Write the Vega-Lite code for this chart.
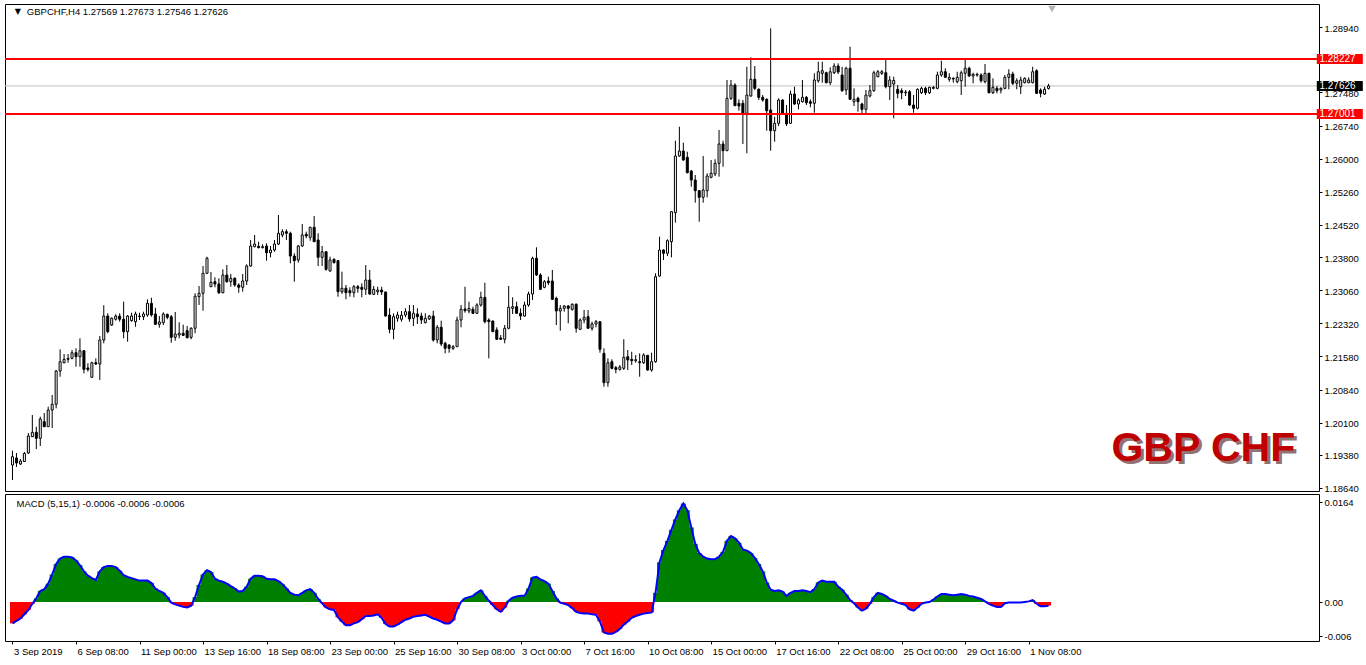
{
"$schema": "https://vega.github.io/schema/vega-lite/v6.json",
"padding": {"left": 3, "top": 3, "right": 0, "bottom": 0},
"background": "white",
"spacing": 3,
"bounds": "flush",
"resolve": {"scale": {"x": "independent", "y": "independent"}},
"config": {
 "view": {"stroke": "black", "strokeWidth": 1},
 "axis": {"labelFont": "Liberation Sans", "labelFontSize": 9.5, "labelColor": "black", "tickColor": "black", "domain": false, "grid": false, "labelOverlap": false, "labelFlush": false, "labelBound": false},
 "text": {"font": "Liberation Sans"}
},
"datasets": {
"levels": [{"p":1.28227,"k":"sr"},{"p":1.27001,"k":"sr"},{"p":1.27626,"k":"bid"}],
"bars": [
{"i":0,"o":1.19153,"h":1.19473,"l":1.18818,"c":1.19339,"m":-0.0035},
{"i":1,"o":1.1931,"h":1.19421,"l":1.19109,"c":1.19198,"m":-0.0031},
{"i":2,"o":1.19176,"h":1.19287,"l":1.19153,"c":1.19243,"m":-0.0027},
{"i":3,"o":1.19231,"h":1.19444,"l":1.1922,"c":1.1941,"m":-0.002},
{"i":4,"o":1.19421,"h":1.19868,"l":1.19399,"c":1.19801,"m":-0.0013},
{"i":5,"o":1.19786,"h":1.20271,"l":1.19779,"c":1.19884,"m":-0.0003},
{"i":6,"o":1.19884,"h":1.20009,"l":1.1951,"c":1.1975,"m":0.0006},
{"i":7,"o":1.1975,"h":1.20233,"l":1.19578,"c":1.20181,"m":0.0018},
{"i":8,"o":1.20121,"h":1.20315,"l":1.20009,"c":1.20009,"m":0.0021},
{"i":9,"o":1.20009,"h":1.20456,"l":1.20009,"c":1.20382,"m":0.003},
{"i":10,"o":1.20382,"h":1.20718,"l":1.1998,"c":1.2051,"m":0.0045},
{"i":11,"o":1.2051,"h":1.21276,"l":1.2042,"c":1.21254,"m":0.0062},
{"i":12,"o":1.21254,"h":1.21739,"l":1.21126,"c":1.21461,"m":0.0071},
{"i":13,"o":1.21439,"h":1.21634,"l":1.21426,"c":1.21515,"m":0.0074},
{"i":14,"o":1.21515,"h":1.21634,"l":1.21439,"c":1.21537,"m":0.0074},
{"i":15,"o":1.21537,"h":1.21723,"l":1.21515,"c":1.21663,"m":0.0073},
{"i":16,"o":1.21663,"h":1.21761,"l":1.2135,"c":1.21573,"m":0.0068},
{"i":17,"o":1.21573,"h":1.21984,"l":1.2135,"c":1.21707,"m":0.006},
{"i":18,"o":1.21707,"h":1.21723,"l":1.21202,"c":1.2129,"m":0.005},
{"i":19,"o":1.21321,"h":1.21426,"l":1.21239,"c":1.2129,"m":0.0043},
{"i":20,"o":1.21113,"h":1.21461,"l":1.21113,"c":1.21439,"m":0.0039},
{"i":21,"o":1.21439,"h":1.21537,"l":1.21388,"c":1.2141,"m":0.0036},
{"i":22,"o":1.2141,"h":1.22036,"l":1.21053,"c":1.21947,"m":0.005},
{"i":23,"o":1.21947,"h":1.22723,"l":1.21873,"c":1.22483,"m":0.0057},
{"i":24,"o":1.22483,"h":1.22544,"l":1.22097,"c":1.22133,"m":0.0059},
{"i":25,"o":1.22282,"h":1.22454,"l":1.2226,"c":1.22432,"m":0.0059},
{"i":26,"o":1.22411,"h":1.22521,"l":1.2238,"c":1.22483,"m":0.0057},
{"i":27,"o":1.22483,"h":1.22544,"l":1.22356,"c":1.22411,"m":0.0051},
{"i":28,"o":1.22411,"h":1.22803,"l":1.21985,"c":1.22133,"m":0.0044},
{"i":29,"o":1.22133,"h":1.22506,"l":1.21909,"c":1.22483,"m":0.0041},
{"i":30,"o":1.2238,"h":1.22557,"l":1.22356,"c":1.22483,"m":0.0039},
{"i":31,"o":1.22356,"h":1.2258,"l":1.22244,"c":1.22528,"m":0.0037},
{"i":32,"o":1.22483,"h":1.22557,"l":1.22394,"c":1.22472,"m":0.0035},
{"i":33,"o":1.22468,"h":1.2258,"l":1.22394,"c":1.22528,"m":0.0035},
{"i":34,"o":1.22506,"h":1.22857,"l":1.22468,"c":1.22767,"m":0.0035},
{"i":35,"o":1.22767,"h":1.22892,"l":1.22468,"c":1.22506,"m":0.0031},
{"i":36,"o":1.22528,"h":1.22669,"l":1.22282,"c":1.22298,"m":0.0022},
{"i":37,"o":1.22298,"h":1.22483,"l":1.22222,"c":1.22349,"m":0.0018},
{"i":38,"o":1.22334,"h":1.22566,"l":1.22282,"c":1.22528,"m":0.0015},
{"i":39,"o":1.22521,"h":1.22535,"l":1.22411,"c":1.22454,"m":0.0008},
{"i":40,"o":1.22468,"h":1.22506,"l":1.21887,"c":1.22007,"m":-0.0001},
{"i":41,"o":1.22007,"h":1.22573,"l":1.21931,"c":1.22081,"m":-0.0004},
{"i":42,"o":1.22059,"h":1.22343,"l":1.21985,"c":1.22097,"m":-0.0006},
{"i":43,"o":1.22097,"h":1.22289,"l":1.22036,"c":1.22052,"m":-0.0008},
{"i":44,"o":1.22155,"h":1.2226,"l":1.21985,"c":1.21998,"m":-0.0009},
{"i":45,"o":1.22007,"h":1.22231,"l":1.21963,"c":1.22209,"m":-0.0006},
{"i":46,"o":1.22209,"h":1.22991,"l":1.22097,"c":1.22924,"m":0.0008},
{"i":47,"o":1.22915,"h":1.23154,"l":1.22729,"c":1.22991,"m":0.0028},
{"i":48,"o":1.22991,"h":1.23601,"l":1.22602,"c":1.23438,"m":0.0045},
{"i":49,"o":1.23438,"h":1.23809,"l":1.23422,"c":1.23773,"m":0.0052},
{"i":50,"o":1.23138,"h":1.23467,"l":1.23132,"c":1.23237,"m":0.0049},
{"i":51,"o":1.2325,"h":1.23348,"l":1.23125,"c":1.23199,"m":0.0038},
{"i":52,"o":1.23199,"h":1.23326,"l":1.22975,"c":1.23004,"m":0.0035},
{"i":53,"o":1.23004,"h":1.23527,"l":1.22991,"c":1.234,"m":0.0033},
{"i":54,"o":1.234,"h":1.23623,"l":1.23228,"c":1.2325,"m":0.003},
{"i":55,"o":1.2325,"h":1.23422,"l":1.23138,"c":1.23326,"m":0.0026},
{"i":56,"o":1.23326,"h":1.23348,"l":1.23138,"c":1.23176,"m":0.0022},
{"i":57,"o":1.23176,"h":1.23214,"l":1.23004,"c":1.23125,"m":0.0017},
{"i":58,"o":1.23125,"h":1.23422,"l":1.23027,"c":1.23266,"m":0.0018},
{"i":59,"o":1.23266,"h":1.23639,"l":1.23176,"c":1.23601,"m":0.0025},
{"i":60,"o":1.23601,"h":1.24182,"l":1.23585,"c":1.24048,"m":0.0038},
{"i":61,"o":1.24032,"h":1.24294,"l":1.24019,"c":1.24092,"m":0.0043},
{"i":62,"o":1.24041,"h":1.24144,"l":1.23996,"c":1.2401,"m":0.0043},
{"i":63,"o":1.2401,"h":1.24086,"l":1.23996,"c":1.24032,"m":0.0042},
{"i":64,"o":1.24048,"h":1.24108,"l":1.2372,"c":1.23898,"m":0.0038},
{"i":65,"o":1.23898,"h":1.24048,"l":1.23795,"c":1.23958,"m":0.0037},
{"i":66,"o":1.23958,"h":1.24182,"l":1.2392,"c":1.24092,"m":0.0037},
{"i":67,"o":1.24092,"h":1.24741,"l":1.2407,"c":1.24332,"m":0.0034},
{"i":68,"o":1.24294,"h":1.24421,"l":1.24242,"c":1.24368,"m":0.0029},
{"i":69,"o":1.24368,"h":1.24421,"l":1.24182,"c":1.24332,"m":0.0022},
{"i":70,"o":1.24332,"h":1.24368,"l":1.23661,"c":1.23824,"m":0.0015},
{"i":71,"o":1.23824,"h":1.23885,"l":1.2325,"c":1.2372,"m":0.0012},
{"i":72,"o":1.23735,"h":1.2407,"l":1.23675,"c":1.24048,"m":0.0011},
{"i":73,"o":1.24048,"h":1.2454,"l":1.24032,"c":1.24294,"m":0.0015},
{"i":74,"o":1.2431,"h":1.24368,"l":1.2422,"c":1.24271,"m":0.0019},
{"i":75,"o":1.24242,"h":1.24479,"l":1.24166,"c":1.24466,"m":0.0021},
{"i":76,"o":1.24466,"h":1.24718,"l":1.24144,"c":1.24144,"m":0.0015},
{"i":77,"o":1.24182,"h":1.24332,"l":1.23601,"c":1.23795,"m":0.0005},
{"i":78,"o":1.23795,"h":1.24048,"l":1.23601,"c":1.2392,"m":-0.0002},
{"i":79,"o":1.2392,"h":1.2392,"l":1.23496,"c":1.23527,"m":-0.0009},
{"i":80,"o":1.23489,"h":1.23809,"l":1.23474,"c":1.23735,"m":-0.0012},
{"i":81,"o":1.23751,"h":1.23773,"l":1.23661,"c":1.23675,"m":-0.0013},
{"i":82,"o":1.2372,"h":1.23735,"l":1.22915,"c":1.23027,"m":-0.0025},
{"i":83,"o":1.23027,"h":1.23474,"l":1.22975,"c":1.23103,"m":-0.0032},
{"i":84,"o":1.23103,"h":1.23176,"l":1.22857,"c":1.23004,"m":-0.0038},
{"i":85,"o":1.23049,"h":1.23125,"l":1.22915,"c":1.23004,"m":-0.0038},
{"i":86,"o":1.23004,"h":1.23176,"l":1.22901,"c":1.23138,"m":-0.0035},
{"i":87,"o":1.23138,"h":1.23176,"l":1.23004,"c":1.23103,"m":-0.0033},
{"i":88,"o":1.23125,"h":1.23214,"l":1.22901,"c":1.2308,"m":-0.0028},
{"i":89,"o":1.2308,"h":1.23623,"l":1.22953,"c":1.23288,"m":-0.0023},
{"i":90,"o":1.23288,"h":1.23512,"l":1.22953,"c":1.22975,"m":-0.0023},
{"i":91,"o":1.22968,"h":1.23154,"l":1.22953,"c":1.2308,"m":-0.0022},
{"i":92,"o":1.23027,"h":1.23138,"l":1.22953,"c":1.23064,"m":-0.002},
{"i":93,"o":1.23064,"h":1.23138,"l":1.22953,"c":1.2302,"m":-0.0026},
{"i":94,"o":1.2302,"h":1.23027,"l":1.22468,"c":1.22483,"m":-0.0036},
{"i":95,"o":1.22506,"h":1.22655,"l":1.22097,"c":1.22186,"m":-0.004},
{"i":96,"o":1.22186,"h":1.22544,"l":1.21963,"c":1.22468,"m":-0.004},
{"i":97,"o":1.22432,"h":1.2258,"l":1.22356,"c":1.22506,"m":-0.0037},
{"i":98,"o":1.22411,"h":1.22595,"l":1.22356,"c":1.22499,"m":-0.0033},
{"i":99,"o":1.22506,"h":1.22655,"l":1.22454,"c":1.2258,"m":-0.0029},
{"i":100,"o":1.2258,"h":1.22729,"l":1.22356,"c":1.22418,"m":-0.0027},
{"i":101,"o":1.22432,"h":1.22729,"l":1.2226,"c":1.22544,"m":-0.0024},
{"i":102,"o":1.22528,"h":1.22655,"l":1.22305,"c":1.22468,"m":-0.0023},
{"i":103,"o":1.22483,"h":1.22557,"l":1.22305,"c":1.22394,"m":-0.0022},
{"i":104,"o":1.22334,"h":1.22544,"l":1.2232,"c":1.22432,"m":-0.0021},
{"i":105,"o":1.22418,"h":1.22506,"l":1.22394,"c":1.22483,"m":-0.0024},
{"i":106,"o":1.22483,"h":1.22602,"l":1.21909,"c":1.21947,"m":-0.0027},
{"i":107,"o":1.21947,"h":1.22282,"l":1.21873,"c":1.22231,"m":-0.0029},
{"i":108,"o":1.22231,"h":1.2238,"l":1.21813,"c":1.21858,"m":-0.0032},
{"i":109,"o":1.21873,"h":1.21909,"l":1.21649,"c":1.21761,"m":-0.0035},
{"i":110,"o":1.21835,"h":1.21851,"l":1.21663,"c":1.21761,"m":-0.0035},
{"i":111,"o":1.21761,"h":1.21835,"l":1.21723,"c":1.21797,"m":-0.003},
{"i":112,"o":1.21797,"h":1.22468,"l":1.21797,"c":1.22394,"m":-0.0012},
{"i":113,"o":1.22394,"h":1.22729,"l":1.22231,"c":1.22633,"m":0.0},
{"i":114,"o":1.2264,"h":1.23138,"l":1.22557,"c":1.22602,"m":0.0006},
{"i":115,"o":1.22595,"h":1.22803,"l":1.22544,"c":1.22655,"m":0.0008},
{"i":116,"o":1.22633,"h":1.22691,"l":1.22528,"c":1.22544,"m":0.001},
{"i":117,"o":1.22544,"h":1.22767,"l":1.22528,"c":1.22729,"m":0.0015},
{"i":118,"o":1.22729,"h":1.23027,"l":1.22691,"c":1.22901,"m":0.0019},
{"i":119,"o":1.22901,"h":1.23228,"l":1.2232,"c":1.22356,"m":0.001},
{"i":120,"o":1.22394,"h":1.22432,"l":1.21537,"c":1.22356,"m":0.0002},
{"i":121,"o":1.22372,"h":1.2238,"l":1.22133,"c":1.22133,"m":-0.0005},
{"i":122,"o":1.22171,"h":1.22231,"l":1.21947,"c":1.21963,"m":-0.0012},
{"i":123,"o":1.21992,"h":1.22059,"l":1.21947,"c":1.21963,"m":-0.0016},
{"i":124,"o":1.21963,"h":1.22282,"l":1.21873,"c":1.22209,"m":-0.0009},
{"i":125,"o":1.22209,"h":1.23154,"l":1.22186,"c":1.22678,"m":0.0002},
{"i":126,"o":1.22655,"h":1.22901,"l":1.22528,"c":1.22691,"m":0.0007},
{"i":127,"o":1.22691,"h":1.22803,"l":1.22528,"c":1.22544,"m":0.0009},
{"i":128,"o":1.22544,"h":1.22655,"l":1.22394,"c":1.22483,"m":0.001},
{"i":129,"o":1.22483,"h":1.22803,"l":1.22468,"c":1.22729,"m":0.001},
{"i":130,"o":1.22729,"h":1.23027,"l":1.22691,"c":1.22975,"m":0.0022},
{"i":131,"o":1.22975,"h":1.23809,"l":1.22841,"c":1.23773,"m":0.004},
{"i":132,"o":1.23773,"h":1.24019,"l":1.23377,"c":1.234,"m":0.0041},
{"i":133,"o":1.234,"h":1.23438,"l":1.23064,"c":1.2308,"m":0.0037},
{"i":134,"o":1.23125,"h":1.23288,"l":1.23103,"c":1.2325,"m":0.0034},
{"i":135,"o":1.23266,"h":1.23362,"l":1.23176,"c":1.23228,"m":0.003},
{"i":136,"o":1.23266,"h":1.23512,"l":1.22841,"c":1.22857,"m":0.0018},
{"i":137,"o":1.22879,"h":1.22915,"l":1.22282,"c":1.22595,"m":0.0006},
{"i":138,"o":1.22595,"h":1.22729,"l":1.22155,"c":1.22655,"m":-0.0001},
{"i":139,"o":1.22655,"h":1.22729,"l":1.2258,"c":1.22707,"m":-0.0003},
{"i":140,"o":1.22707,"h":1.22729,"l":1.2232,"c":1.22655,"m":-0.0005},
{"i":141,"o":1.22633,"h":1.22767,"l":1.22602,"c":1.22745,"m":-0.001},
{"i":142,"o":1.22745,"h":1.22767,"l":1.22111,"c":1.22209,"m":-0.0016},
{"i":143,"o":1.22186,"h":1.22432,"l":1.22171,"c":1.22394,"m":-0.0018},
{"i":144,"o":1.22394,"h":1.22618,"l":1.2232,"c":1.22454,"m":-0.0019},
{"i":145,"o":1.22468,"h":1.22618,"l":1.22209,"c":1.22209,"m":-0.0019},
{"i":146,"o":1.22209,"h":1.22356,"l":1.22155,"c":1.22305,"m":-0.002},
{"i":147,"o":1.22305,"h":1.22394,"l":1.22231,"c":1.22356,"m":-0.0021},
{"i":148,"o":1.22356,"h":1.22356,"l":1.21663,"c":1.21739,"m":-0.0032},
{"i":149,"o":1.21649,"h":1.21761,"l":1.20903,"c":1.20993,"m":-0.005},
{"i":150,"o":1.20993,"h":1.21537,"l":1.20903,"c":1.21439,"m":-0.0052},
{"i":151,"o":1.21461,"h":1.21515,"l":1.2129,"c":1.21314,"m":-0.0052},
{"i":152,"o":1.21328,"h":1.21366,"l":1.21202,"c":1.2129,"m":-0.0049},
{"i":153,"o":1.2129,"h":1.21388,"l":1.21261,"c":1.21343,"m":-0.0044},
{"i":154,"o":1.21314,"h":1.21963,"l":1.21276,"c":1.2156,"m":-0.0037},
{"i":155,"o":1.21573,"h":1.21723,"l":1.21276,"c":1.215,"m":-0.0032},
{"i":156,"o":1.21515,"h":1.21685,"l":1.21388,"c":1.21484,"m":-0.0026},
{"i":157,"o":1.21484,"h":1.21612,"l":1.21439,"c":1.21506,"m":-0.0023},
{"i":158,"o":1.21461,"h":1.21649,"l":1.21126,"c":1.21439,"m":-0.0021},
{"i":159,"o":1.21439,"h":1.21649,"l":1.2141,"c":1.21612,"m":-0.0019},
{"i":160,"o":1.21605,"h":1.21612,"l":1.21261,"c":1.21276,"m":-0.0018},
{"i":161,"o":1.21276,"h":1.21663,"l":1.21239,"c":1.21461,"m":-0.0017},
{"i":162,"o":1.21461,"h":1.23438,"l":1.21439,"c":1.23362,"m":0.0015},
{"i":163,"o":1.23377,"h":1.24256,"l":1.23362,"c":1.23958,"m":0.0065},
{"i":164,"o":1.23958,"h":1.23974,"l":1.23735,"c":1.23885,"m":0.0085},
{"i":165,"o":1.23885,"h":1.24198,"l":1.23824,"c":1.24166,"m":0.01},
{"i":166,"o":1.24144,"h":1.24815,"l":1.23795,"c":1.24815,"m":0.0118},
{"i":167,"o":1.24792,"h":1.26401,"l":1.24569,"c":1.26059,"m":0.0135},
{"i":168,"o":1.26059,"h":1.26714,"l":1.26044,"c":1.26171,"m":0.015},
{"i":169,"o":1.26171,"h":1.26357,"l":1.25954,"c":1.2597,"m":0.0161},
{"i":170,"o":1.2603,"h":1.26155,"l":1.25673,"c":1.25686,"m":0.015},
{"i":171,"o":1.25724,"h":1.25747,"l":1.25373,"c":1.25523,"m":0.0122},
{"i":172,"o":1.25523,"h":1.25635,"l":1.25016,"c":1.25284,"m":0.0095},
{"i":173,"o":1.25284,"h":1.253,"l":1.24591,"c":1.25136,"m":0.008},
{"i":174,"o":1.25136,"h":1.26059,"l":1.25016,"c":1.253,"m":0.0074},
{"i":175,"o":1.25284,"h":1.25673,"l":1.25136,"c":1.25612,"m":0.0071},
{"i":176,"o":1.25583,"h":1.2597,"l":1.25561,"c":1.25673,"m":0.007},
{"i":177,"o":1.25657,"h":1.25986,"l":1.25612,"c":1.25896,"m":0.007},
{"i":178,"o":1.25896,"h":1.2664,"l":1.25597,"c":1.26328,"m":0.0074},
{"i":179,"o":1.26328,"h":1.26401,"l":1.2582,"c":1.26178,"m":0.0082},
{"i":180,"o":1.26178,"h":1.27758,"l":1.26178,"c":1.27349,"m":0.01},
{"i":181,"o":1.27349,"h":1.27758,"l":1.27311,"c":1.27646,"m":0.0108},
{"i":182,"o":1.27646,"h":1.27684,"l":1.27177,"c":1.27184,"m":0.0104},
{"i":183,"o":1.27237,"h":1.27327,"l":1.27072,"c":1.27177,"m":0.0097},
{"i":184,"o":1.27237,"h":1.27311,"l":1.26328,"c":1.26998,"m":0.0086},
{"i":185,"o":1.27014,"h":1.28055,"l":1.2612,"c":1.27423,"m":0.0084},
{"i":186,"o":1.274,"h":1.28265,"l":1.27385,"c":1.27774,"m":0.008},
{"i":187,"o":1.27774,"h":1.28071,"l":1.27535,"c":1.27572,"m":0.0072},
{"i":188,"o":1.2755,"h":1.27572,"l":1.27311,"c":1.27371,"m":0.0062},
{"i":189,"o":1.27371,"h":1.27423,"l":1.27273,"c":1.27311,"m":0.005},
{"i":190,"o":1.27327,"h":1.27349,"l":1.26625,"c":1.27072,"m":0.0032},
{"i":191,"o":1.27088,"h":1.28913,"l":1.26178,"c":1.26625,"m":0.002},
{"i":192,"o":1.26625,"h":1.26938,"l":1.26379,"c":1.2679,"m":0.0018},
{"i":193,"o":1.2679,"h":1.27349,"l":1.2673,"c":1.27311,"m":0.0019},
{"i":194,"o":1.27311,"h":1.27327,"l":1.26976,"c":1.26998,"m":0.0017},
{"i":195,"o":1.27014,"h":1.27199,"l":1.2673,"c":1.26775,"m":0.001},
{"i":196,"o":1.2679,"h":1.27519,"l":1.26775,"c":1.27445,"m":0.0015},
{"i":197,"o":1.27445,"h":1.27608,"l":1.27199,"c":1.27222,"m":0.0018},
{"i":198,"o":1.27222,"h":1.27349,"l":1.27103,"c":1.27311,"m":0.0018},
{"i":199,"o":1.27273,"h":1.27758,"l":1.27251,"c":1.27371,"m":0.0019},
{"i":200,"o":1.27371,"h":1.274,"l":1.27199,"c":1.27251,"m":0.0018},
{"i":201,"o":1.27273,"h":1.27327,"l":1.27148,"c":1.27237,"m":0.0016},
{"i":202,"o":1.27237,"h":1.27908,"l":1.27027,"c":1.27758,"m":0.0021},
{"i":203,"o":1.27742,"h":1.28167,"l":1.27698,"c":1.27943,"m":0.0032},
{"i":204,"o":1.27908,"h":1.28167,"l":1.27698,"c":1.27966,"m":0.0035},
{"i":205,"o":1.27921,"h":1.27943,"l":1.27684,"c":1.27698,"m":0.0033},
{"i":206,"o":1.27698,"h":1.28042,"l":1.27646,"c":1.27943,"m":0.0033},
{"i":207,"o":1.27921,"h":1.28131,"l":1.27892,"c":1.28071,"m":0.0033},
{"i":208,"o":1.28071,"h":1.28131,"l":1.27892,"c":1.27937,"m":0.0025},
{"i":209,"o":1.2787,"h":1.28055,"l":1.27496,"c":1.27519,"m":0.002},
{"i":210,"o":1.27535,"h":1.28055,"l":1.27423,"c":1.2802,"m":0.0012},
{"i":211,"o":1.2802,"h":1.28502,"l":1.27311,"c":1.27327,"m":0.0003},
{"i":212,"o":1.27273,"h":1.27572,"l":1.27177,"c":1.27327,"m":-0.0002},
{"i":213,"o":1.27349,"h":1.27385,"l":1.2705,"c":1.27273,"m":-0.0009},
{"i":214,"o":1.27222,"h":1.27251,"l":1.26998,"c":1.27103,"m":-0.0014},
{"i":215,"o":1.27103,"h":1.27535,"l":1.26998,"c":1.27423,"m":-0.0011},
{"i":216,"o":1.274,"h":1.27646,"l":1.27371,"c":1.27519,"m":-0.0003},
{"i":217,"o":1.27519,"h":1.27966,"l":1.27496,"c":1.27921,"m":0.0008},
{"i":218,"o":1.27832,"h":1.27981,"l":1.27818,"c":1.27943,"m":0.0015},
{"i":219,"o":1.27908,"h":1.27981,"l":1.2787,"c":1.27943,"m":0.0013},
{"i":220,"o":1.27921,"h":1.2822,"l":1.27572,"c":1.27608,"m":0.001},
{"i":221,"o":1.27608,"h":1.27847,"l":1.27311,"c":1.27758,"m":0.0005},
{"i":222,"o":1.27669,"h":1.27832,"l":1.26902,"c":1.27747,"m":0.0002},
{"i":223,"o":1.2755,"h":1.27646,"l":1.27349,"c":1.2746,"m":-0.0001},
{"i":224,"o":1.27519,"h":1.27572,"l":1.27327,"c":1.27474,"m":-0.0003},
{"i":225,"o":1.27474,"h":1.27535,"l":1.274,"c":1.2749,"m":-0.0005},
{"i":226,"o":1.27496,"h":1.27535,"l":1.27177,"c":1.27199,"m":-0.0012},
{"i":227,"o":1.27199,"h":1.27423,"l":1.27027,"c":1.27126,"m":-0.0014},
{"i":228,"o":1.27126,"h":1.27572,"l":1.27103,"c":1.2755,"m":-0.0009},
{"i":229,"o":1.27474,"h":1.27608,"l":1.27445,"c":1.27572,"m":-0.0003},
{"i":230,"o":1.27572,"h":1.27608,"l":1.27423,"c":1.27474,"m":-0.0001},
{"i":231,"o":1.27474,"h":1.27608,"l":1.27445,"c":1.27595,"m":0.0},
{"i":232,"o":1.27572,"h":1.27624,"l":1.2755,"c":1.27595,"m":0.0004},
{"i":233,"o":1.27572,"h":1.27943,"l":1.2755,"c":1.2787,"m":0.0009},
{"i":234,"o":1.2787,"h":1.2819,"l":1.27832,"c":1.27943,"m":0.0013},
{"i":235,"o":1.27943,"h":1.2802,"l":1.27818,"c":1.27818,"m":0.0013},
{"i":236,"o":1.27774,"h":1.27908,"l":1.2772,"c":1.27818,"m":0.0012},
{"i":237,"o":1.27796,"h":1.27818,"l":1.27698,"c":1.2778,"m":0.0011},
{"i":238,"o":1.2772,"h":1.27943,"l":1.27684,"c":1.27818,"m":0.0012},
{"i":239,"o":1.27742,"h":1.27966,"l":1.27423,"c":1.27921,"m":0.0013},
{"i":240,"o":1.27908,"h":1.28243,"l":1.27608,"c":1.2802,"m":0.0012},
{"i":241,"o":1.2802,"h":1.28055,"l":1.27832,"c":1.27847,"m":0.001},
{"i":242,"o":1.27847,"h":1.27921,"l":1.27684,"c":1.27885,"m":0.0009},
{"i":243,"o":1.27885,"h":1.27921,"l":1.27832,"c":1.2787,"m":0.0007},
{"i":244,"o":1.2787,"h":1.27908,"l":1.27698,"c":1.27742,"m":0.0005},
{"i":245,"o":1.2772,"h":1.28116,"l":1.27684,"c":1.27908,"m":0.0001},
{"i":246,"o":1.27908,"h":1.27921,"l":1.2746,"c":1.27474,"m":-0.0003},
{"i":247,"o":1.27474,"h":1.27796,"l":1.27445,"c":1.27595,"m":-0.0006},
{"i":248,"o":1.27572,"h":1.27624,"l":1.2746,"c":1.27519,"m":-0.0008},
{"i":249,"o":1.27535,"h":1.27595,"l":1.2746,"c":1.27572,"m":-0.0008},
{"i":250,"o":1.27572,"h":1.2787,"l":1.2755,"c":1.27818,"m":-0.0002},
{"i":251,"o":1.27818,"h":1.27997,"l":1.2755,"c":1.27892,"m":-0.0001},
{"i":252,"o":1.27892,"h":1.27943,"l":1.27646,"c":1.27684,"m":-0.0001},
{"i":253,"o":1.27684,"h":1.27796,"l":1.2755,"c":1.27742,"m":-0.0001},
{"i":254,"o":1.27608,"h":1.27832,"l":1.27445,"c":1.27758,"m":-0.0001},
{"i":255,"o":1.27698,"h":1.27818,"l":1.27684,"c":1.27796,"m":0.0},
{"i":256,"o":1.27698,"h":1.27818,"l":1.27684,"c":1.27758,"m":0.0001},
{"i":257,"o":1.27698,"h":1.28055,"l":1.27684,"c":1.27943,"m":0.0003},
{"i":258,"o":1.27966,"h":1.27997,"l":1.27445,"c":1.2746,"m":-0.0003},
{"i":259,"o":1.27535,"h":1.27572,"l":1.27371,"c":1.2746,"m":-0.0007},
{"i":260,"o":1.27445,"h":1.27608,"l":1.27423,"c":1.2755,"m":-0.0007},
{"i":261,"o":1.27569,"h":1.27673,"l":1.27546,"c":1.27626,"m":-0.0006}
]
},
"vconcat": [
{
 "width": 1314, "height": 487,
 "layer": [
  {"data": {"name": "levels"}, "transform": [{"filter": "datum.k == 'bid'"}],
   "mark": {"type": "rule", "color": "#c0c0c0", "strokeWidth": 1},
   "encoding": {"y": {"field": "p", "type": "quantitative", "scale": {"domain": [1.18572, 1.29457], "nice": false, "zero": false},
      "axis": {"orient": "right", "title": null, "values": [1.2894,1.2748,1.2674,1.26,1.2526,1.2452,1.238,1.2306,1.2232,1.2158,1.2084,1.201,1.1938,1.1864], "format": ".5f", "tickSize": 3, "labelPadding": 2, "labelOffset": 1}}}},
  {"data": {"name": "bars"},
   "mark": {"type": "rule", "color": "black", "strokeWidth": 1},
   "encoding": {
    "x": {"field": "i", "type": "quantitative", "scale": {"domain": [-0.625, 327.875], "nice": false, "zero": false}, "axis": null},
    "y": {"field": "l", "type": "quantitative", "scale": {"domain": [1.18572, 1.29457], "nice": false, "zero": false},
      "axis": {"orient": "right", "title": null, "values": [1.2894,1.2748,1.2674,1.26,1.2526,1.2452,1.238,1.2306,1.2232,1.2158,1.2084,1.201,1.1938,1.1864], "format": ".5f", "tickSize": 3, "labelPadding": 2, "labelOffset": 1}},
    "y2": {"field": "h"}}},
  {"data": {"name": "bars"},
   "mark": {"type": "bar", "orient": "vertical", "width": 2, "stroke": "black", "strokeWidth": 1},
   "encoding": {
    "x": {"field": "i", "type": "quantitative", "scale": {"domain": [-0.625, 327.875], "nice": false, "zero": false}, "axis": null},
    "y": {"field": "o", "type": "quantitative", "scale": {"domain": [1.18572, 1.29457], "nice": false, "zero": false},
      "axis": {"orient": "right", "title": null, "values": [1.2894,1.2748,1.2674,1.26,1.2526,1.2452,1.238,1.2306,1.2232,1.2158,1.2084,1.201,1.1938,1.1864], "format": ".5f", "tickSize": 3, "labelPadding": 2, "labelOffset": 1}},
    "y2": {"field": "c"},
    "fill": {"condition": {"test": "datum.c < datum.o", "value": "black"}, "value": "white"}}},
  {"data": {"name": "levels"}, "transform": [{"filter": "datum.k == 'sr'"}],
   "mark": {"type": "rule", "color": "#ff0000", "strokeWidth": 2},
   "encoding": {"y": {"field": "p", "type": "quantitative", "scale": {"domain": [1.18572, 1.29457], "nice": false, "zero": false},
      "axis": {"orient": "right", "title": null, "values": [1.2894,1.2748,1.2674,1.26,1.2526,1.2452,1.238,1.2306,1.2232,1.2158,1.2084,1.201,1.1938,1.1864], "format": ".5f", "tickSize": 3, "labelPadding": 2, "labelOffset": 1}}}},
  {"data": {"name": "levels"},
   "mark": {"type": "tick", "orient": "horizontal", "size": 46, "thickness": 10, "opacity": 1},
   "encoding": {
    "x": {"datum": 334.375, "type": "quantitative", "scale": {"domain": [-0.625, 327.875], "nice": false, "zero": false}, "axis": null},
    "y": {"field": "p", "type": "quantitative", "scale": {"domain": [1.18572, 1.29457], "nice": false, "zero": false},
      "axis": {"orient": "right", "title": null, "values": [1.2894,1.2748,1.2674,1.26,1.2526,1.2452,1.238,1.2306,1.2232,1.2158,1.2084,1.201,1.1938,1.1864], "format": ".5f", "tickSize": 3, "labelPadding": 2, "labelOffset": 1}},
    "color": {"condition": {"test": "datum.k == 'bid'", "value": "black"}, "value": "#ff0000"}}},
  {"data": {"name": "levels"},
   "mark": {"type": "text", "align": "left", "baseline": "middle", "fontSize": 10, "color": "white"},
   "encoding": {
    "x": {"datum": 329.25, "type": "quantitative", "axis": null},
    "y": {"field": "p", "type": "quantitative",
      "axis": {"orient": "right", "title": null, "values": [1.2894,1.2748,1.2674,1.26,1.2526,1.2452,1.238,1.2306,1.2232,1.2158,1.2084,1.201,1.1938,1.1864], "format": ".5f", "tickSize": 3, "labelPadding": 2, "labelOffset": 1}},
    "text": {"field": "p", "type": "quantitative", "format": ".5f"}}},
  {"data": {"values": [{"t": "shift"}]},
   "mark": {"type": "point", "shape": "triangle-down", "filled": true, "size": 60, "color": "#b4b4b4", "opacity": 1},
   "encoding": {"x": {"datum": 261.875, "type": "quantitative", "axis": null}, "y": {"datum": 1.29345, "type": "quantitative",
      "axis": {"orient": "right", "title": null, "values": [1.2894,1.2748,1.2674,1.26,1.2526,1.2452,1.238,1.2306,1.2232,1.2158,1.2084,1.201,1.1938,1.1864], "format": ".5f", "tickSize": 3, "labelPadding": 2, "labelOffset": 1}}}},
  {"data": {"values": [{"t": "▼"}]},
   "mark": {"type": "text", "align": "center", "baseline": "middle", "fontSize": 8, "color": "black", "font": "DejaVu Sans"},
   "encoding": {"x": {"datum": 1.375, "type": "quantitative", "axis": null}, "y": {"datum": 1.29278, "type": "quantitative",
      "axis": {"orient": "right", "title": null, "values": [1.2894,1.2748,1.2674,1.26,1.2526,1.2452,1.238,1.2306,1.2232,1.2158,1.2084,1.201,1.1938,1.1864], "format": ".5f", "tickSize": 3, "labelPadding": 2, "labelOffset": 1}}, "text": {"field": "t"}}},
  {"data": {"values": [{"t": "GBPCHF,H4  1.27569 1.27673 1.27546 1.27626"}]},
   "mark": {"type": "text", "align": "left", "baseline": "middle", "fontSize": 9.5, "color": "black"},
   "encoding": {"x": {"datum": 3.625, "type": "quantitative", "axis": null}, "y": {"datum": 1.29278, "type": "quantitative",
      "axis": {"orient": "right", "title": null, "values": [1.2894,1.2748,1.2674,1.26,1.2526,1.2452,1.238,1.2306,1.2232,1.2158,1.2084,1.201,1.1938,1.1864], "format": ".5f", "tickSize": 3, "labelPadding": 2, "labelOffset": 1}}, "text": {"field": "t"}}},
  {"data": {"values": [{"t": "GBP CHF"}]},
   "mark": {"type": "text", "align": "center", "baseline": "middle", "fontSize": 41, "fontWeight": "bold", "color": "#3a0000", "opacity": 0.55, "dx": 3, "dy": 3},
   "encoding": {"x": {"datum": 300.0, "type": "quantitative", "axis": null}, "y": {"datum": 1.1951, "type": "quantitative",
      "axis": {"orient": "right", "title": null, "values": [1.2894,1.2748,1.2674,1.26,1.2526,1.2452,1.238,1.2306,1.2232,1.2158,1.2084,1.201,1.1938,1.1864], "format": ".5f", "tickSize": 3, "labelPadding": 2, "labelOffset": 1}}, "text": {"field": "t"}}},
  {"data": {"values": [{"t": "GBP CHF"}]},
   "mark": {"type": "text", "align": "center", "baseline": "middle", "fontSize": 41, "fontWeight": "bold", "color": "#c00000"},
   "encoding": {"x": {"datum": 300.0, "type": "quantitative", "axis": null}, "y": {"datum": 1.1951, "type": "quantitative",
      "axis": {"orient": "right", "title": null, "values": [1.2894,1.2748,1.2674,1.26,1.2526,1.2452,1.238,1.2306,1.2232,1.2158,1.2084,1.201,1.1938,1.1864], "format": ".5f", "tickSize": 3, "labelPadding": 2, "labelOffset": 1}}, "text": {"field": "t"}}}
 ]
},
{
 "width": 1314, "height": 147,
 "layer": [
  {"data": {"name": "bars"},
   "mark": {"type": "bar", "orient": "vertical", "width": 5},
   "encoding": {
    "x": {"field": "i", "type": "quantitative", "scale": {"domain": [-0.625, 327.875], "nice": false, "zero": false},
      "axis": {"orient": "bottom", "title": null, "values": [0,16,32,48,64,80,96,112,128,144,160,176,192,208,224,240,256], "tickSize": 3, "labelPadding": 2, "labelAlign": "left", "labelOffset": 1,
        "labelExpr": "['3 Sep 2019','6 Sep 08:00','11 Sep 00:00','13 Sep 16:00','18 Sep 08:00','23 Sep 00:00','25 Sep 16:00','30 Sep 08:00','3 Oct 00:00','7 Oct 16:00','10 Oct 08:00','15 Oct 00:00','17 Oct 16:00','22 Oct 08:00','25 Oct 00:00','29 Oct 16:00','1 Nov 08:00'][round(datum.value/16)]"}},
    "y": {"field": "m", "type": "quantitative", "scale": {"domain": [-0.00638, 0.01766], "nice": false, "zero": false},
      "axis": {"orient": "right", "title": null, "values": [0.0164, 0, -0.0055], "tickSize": 3, "labelPadding": 2, "labelOffset": 1,
        "labelExpr": "datum.value > 0.01 ? '0.0164' : (datum.value < -0.001 ? '-0.006' : '0.00')"}},
    "color": {"condition": {"test": "datum.m < 0", "value": "#ff0000"}, "value": "#008000"}}},
  {"data": {"name": "bars"},
   "mark": {"type": "line", "color": "#0000ff", "strokeWidth": 2},
   "encoding": {
    "x": {"field": "i", "type": "quantitative",
      "axis": {"orient": "bottom", "title": null, "values": [0,16,32,48,64,80,96,112,128,144,160,176,192,208,224,240,256], "tickSize": 3, "labelPadding": 2, "labelAlign": "left", "labelOffset": 1,
        "labelExpr": "['3 Sep 2019','6 Sep 08:00','11 Sep 00:00','13 Sep 16:00','18 Sep 08:00','23 Sep 00:00','25 Sep 16:00','30 Sep 08:00','3 Oct 00:00','7 Oct 16:00','10 Oct 08:00','15 Oct 00:00','17 Oct 16:00','22 Oct 08:00','25 Oct 00:00','29 Oct 16:00','1 Nov 08:00'][round(datum.value/16)]"}},
    "y": {"field": "m", "type": "quantitative",
      "axis": {"orient": "right", "title": null, "values": [0.0164, 0, -0.0055], "tickSize": 3, "labelPadding": 2, "labelOffset": 1,
        "labelExpr": "datum.value > 0.01 ? '0.0164' : (datum.value < -0.001 ? '-0.006' : '0.00')"}}}},
  {"data": {"values": [{"t": "MACD (5,15,1) -0.0006 -0.0006 -0.0006"}]},
   "mark": {"type": "text", "align": "left", "baseline": "middle", "fontSize": 9.5, "color": "black"},
   "encoding": {"x": {"datum": 1.025, "type": "quantitative",
      "axis": {"orient": "bottom", "title": null, "values": [0,16,32,48,64,80,96,112,128,144,160,176,192,208,224,240,256], "tickSize": 3, "labelPadding": 2, "labelAlign": "left", "labelOffset": 1,
        "labelExpr": "['3 Sep 2019','6 Sep 08:00','11 Sep 00:00','13 Sep 16:00','18 Sep 08:00','23 Sep 00:00','25 Sep 16:00','30 Sep 08:00','3 Oct 00:00','7 Oct 16:00','10 Oct 08:00','15 Oct 00:00','17 Oct 16:00','22 Oct 08:00','25 Oct 00:00','29 Oct 16:00','1 Nov 08:00'][round(datum.value/16)]"}},
    "y": {"datum": 0.016, "type": "quantitative",
      "axis": {"orient": "right", "title": null, "values": [0.0164, 0, -0.0055], "tickSize": 3, "labelPadding": 2, "labelOffset": 1,
        "labelExpr": "datum.value > 0.01 ? '0.0164' : (datum.value < -0.001 ? '-0.006' : '0.00')"}},
    "text": {"field": "t"}}}
 ]
}
]
}
